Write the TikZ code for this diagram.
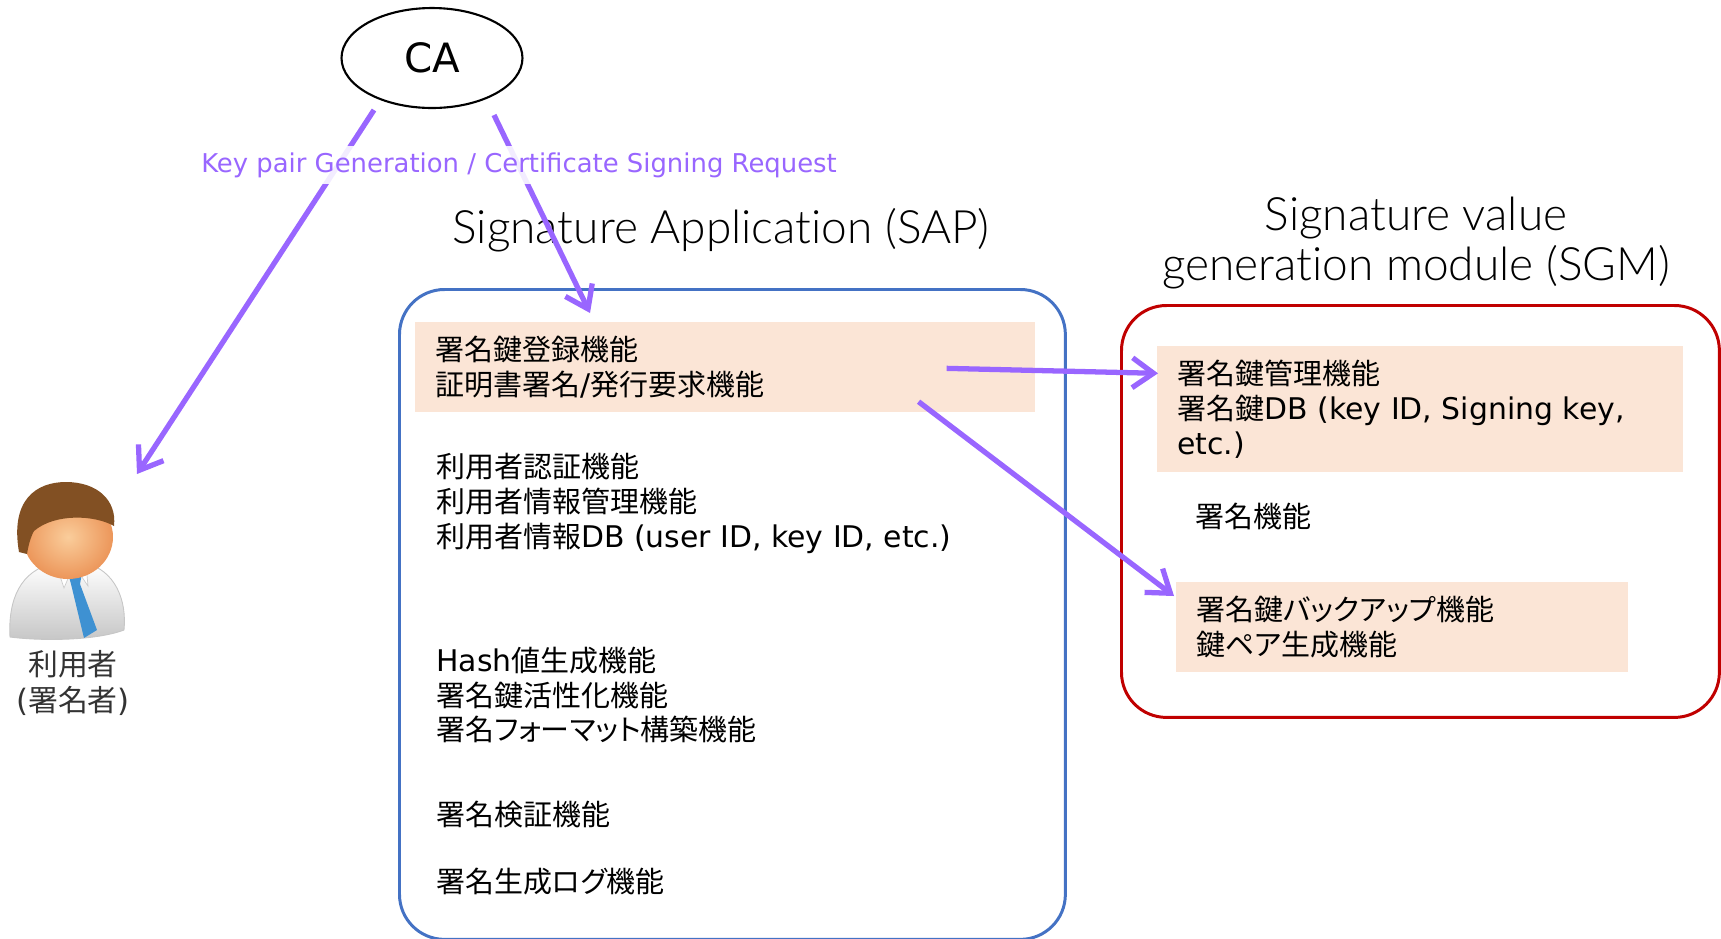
\documentclass[tikz,border=0pt]{standalone}
\usepackage{fontspec}
\setmainfont{DejaVu Sans}[Scale=1.03]
\newfontfamily\ja[RawFeature=+palt]{Noto Sans CJK JP}
\newfontfamily\heading{Lato Light}[Ligatures=NoCommon]
\newcommand{\en}[1]{{\rmfamily #1}}
\usepackage{tikz}
\usetikzlibrary{arrows.meta,calc,shapes.geometric}
\definecolor{sapBlue}{RGB}{68,114,196}
\definecolor{sgmRed}{RGB}{192,0,0}
\definecolor{flowPurple}{RGB}{153,102,255}
\definecolor{funcPeach}{RGB}{251,229,214}
\definecolor{tieBlue}{RGB}{62,145,210}
\definecolor{hairBrown}{RGB}{130,80,35}
\definecolor{skinLight}{RGB}{250,205,155}
\definecolor{skinDark}{RGB}{236,150,90}

\begin{document}
\begin{tikzpicture}[x=0.02cm,y=-0.02cm,
  func/.style={rectangle,fill=funcPeach,anchor=north west,align=left,
               inner xsep=0.4cm,font=\ja\fontsize{16.5}{19.9}\selectfont},
  txt/.style={anchor=west,align=left,inner sep=0pt,
              font=\ja\fontsize{16.5}{19.9}\selectfont},
  frame/.style={rectangle,rounded corners=0.9cm,draw=#1,line width=1.7pt,
                anchor=north west},
  title/.style={align=center,font=\heading\fontsize{26.2}{29}\selectfont},
  flow/.style={-{Straight Barb[length=12pt,width=17pt]},line width=3pt,
               color=flowPurple}
]
\useasboundingbox (0,0) rectangle (1721,938);
% CA
\node[ellipse,draw,line width=1.2pt,minimum width=3.62cm,minimum height=2cm,
      font=\fontsize{22.3}{27}\selectfont] (CA) at (432,58) {CA};
% user icon
\coordinate (user) at (67,560);
\shade[top color=white,bottom color=gray!45,draw=gray!45,line width=0.5pt]
  (10,637) .. controls (8,600) and (20,570) .. (55,563) -- (85,563)
  .. controls (115,570) and (127,600) .. (124,630)
  .. controls (95,641) and (40,641) .. (10,637) -- cycle;
\fill[white,draw=gray!40,line width=0.4pt] (56,564) -- (70,574) -- (64,588) -- cycle;
\fill[white,draw=gray!40,line width=0.4pt] (86,564) -- (80,574) -- (88,586) -- cycle;
\fill[tieBlue] (68,573) -- (82,573) -- (80,584) -- (71,584) -- cycle;
\fill[tieBlue] (71,584) -- (80,584) -- (97,630) -- (84,638) -- cycle;
\shade[inner color=skinLight,outer color=skinDark]
  (68,537) ellipse [x radius=0.9cm,y radius=0.84cm];
\fill[hairBrown] (19,552) .. controls (10,500) and (36,482) .. (66,482)
  .. controls (97,482) and (117,500) .. (114,526)
  .. controls (95,515) and (55,513) .. (34,531)
  .. controls (30,538) and (28,548) .. (27,554) -- cycle;
\node[align=center,text=black!80,font=\ja\fontsize{17}{20.5}\selectfont]
  (userlbl) at (73,683) {利用者\\\en{(}署名者\en{)}};
% SAP
\node[title] (saptitle) at (721,230) {Signature Application (SAP)};
\node[frame=sapBlue,minimum width=13.32cm,minimum height=13cm] (sap) at (398,288) {};
\node[func,minimum height=1.8cm,text width=11.6cm] (keyreg) at (415,322)
  {署名鍵登録機能\\証明書署名\en{/}発行要求機能};
\node[txt] (userfn) at (436,503)
  {利用者認証機能\\利用者情報管理機能\\利用者情報\en{DB (user ID, key ID, etc.)}};
\node[txt] (hashfn) at (436,695)
  {\en{Hash}値生成機能\\署名鍵活性化機能\\署名フォーマット構築機能};
\node[txt] (verify) at (436,814) {署名検証機能};
\node[txt] (siglog) at (436,882) {署名生成ログ機能};
% SGM
\node[title] (sgmtitle) at (1416,243) {Signature value\\generation module (SGM)};
\node[frame=sgmRed,minimum width=11.96cm,minimum height=8.24cm] (sgm) at (1120,304) {};
\node[func,minimum height=2.52cm,text width=9.72cm] (sgmkey) at (1157,346)
  {署名鍵管理機能\\署名鍵\en{DB (key ID, Signing key,}\\\en{etc.)}};
\node[txt] (signfn) at (1195,516) {署名機能};
\node[func,minimum height=1.8cm,text width=8.24cm] (sgmbak) at (1176,582)
  {署名鍵バックアップ機能\\鍵ペア生成機能};
% flows
\draw[flow] ($(CA.center)+(-58,52)$) -- ($(user)+(70,-86)$);
\draw[flow] ($(CA.center)+(62,57)$) -- ($(keyreg.north west)+(175,-9)$);
\draw[flow] ($(keyreg.east)+(-89,1)$) -- ($(sgmkey.west)+(1,-36)$);
\draw[flow] ($(keyreg.south east)+(-117,-11)$) -- ($(sgmbak.north west)+(-2,14)$);
\node[fill=white,fill opacity=0.88,text opacity=1,text=flowPurple,
      font=\fontsize{14.3}{17}\selectfont] (csr) at (519,165)
  {Key pair Generation / Certificate Signing Request};
\end{tikzpicture}
\end{document}
